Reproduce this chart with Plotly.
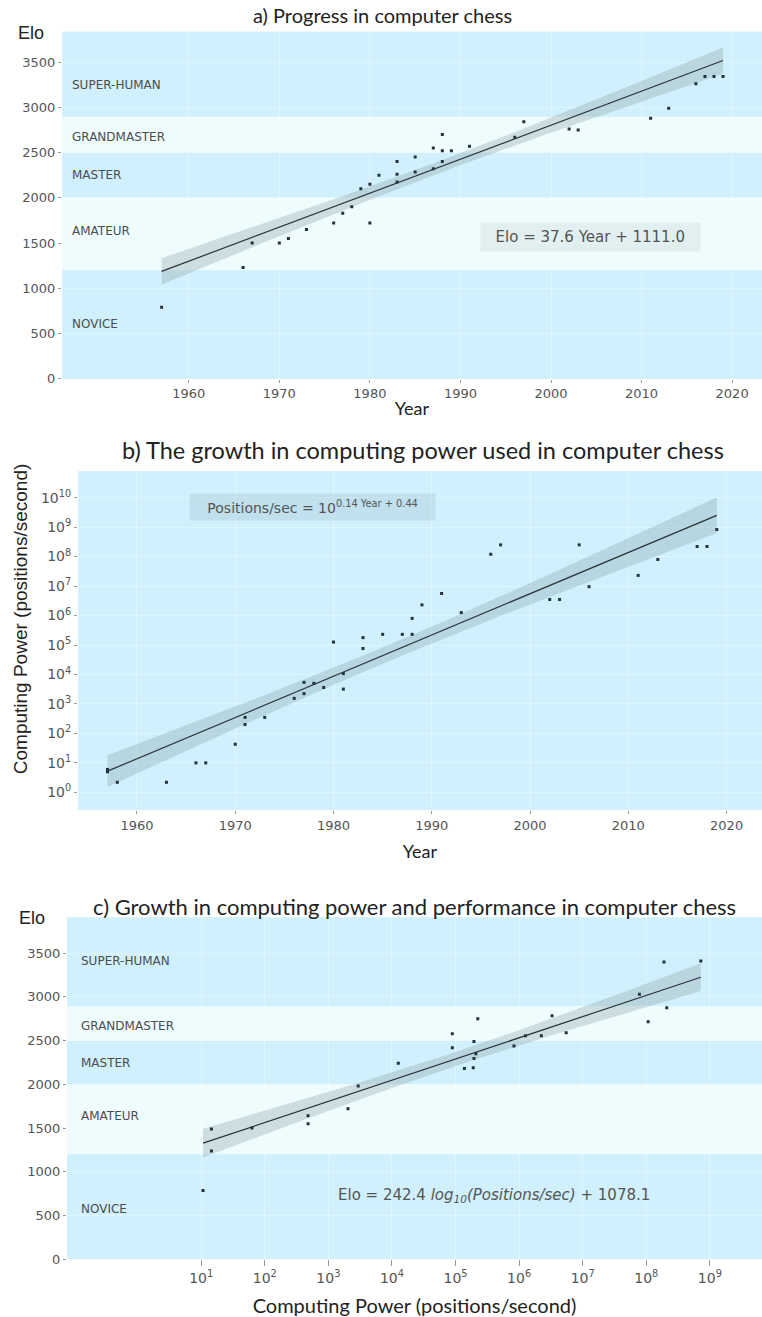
import numpy as np
import plotly.graph_objects as go

# ---------------- data ----------------
# a) engine rating by year
years_a = [1957, 1966, 1967, 1970, 1971, 1973, 1976, 1977, 1978, 1979, 1980, 1980,
           1981, 1983, 1983, 1983, 1985, 1985, 1987, 1987, 1988, 1988, 1988, 1989,
           1991, 1996, 1997, 2002, 2003, 2011, 2013, 2016, 2017, 2018, 2019]
elo_a = [790, 1230, 1500, 1500, 1550, 1650, 1720, 1830, 1900, 2100, 1720, 2150,
         2250, 2400, 2260, 2175, 2450, 2285, 2550, 2320, 2700, 2520, 2400, 2520,
         2570, 2670, 2840, 2760, 2750, 2880, 2990, 3260, 3340, 3340, 3340]

# b) search speed by year (positions per second)
years_b = [1957, 1957, 1958, 1963, 1966, 1967, 1970, 1971, 1971, 1973, 1976, 1977,
           1977, 1978, 1979, 1980, 1981, 1981, 1983, 1983, 1985, 1987, 1988, 1988,
           1989, 1991, 1993, 1996, 1997, 2002, 2003, 2005, 2006, 2011, 2013, 2017,
           2018, 2019]
pps_b = [6.0, 5.0, 2.2, 2.2, 10, 10, 43, 200, 350, 350, 1550, 2240,
         5400, 5000, 3600, 126000, 3200, 10700, 178000, 76000, 230000, 230000, 230000, 800000,
         2.3e6, 5.6e6, 1.26e6, 1.2e8, 2.5e8, 3.5e6, 3.5e6, 2.5e8, 9.5e6, 2.3e7, 8e7, 2.2e8,
         2.2e8, 8.3e8]

# c) rating versus search speed
pps_c = [10.7, 14.5, 14.5, 63, 480, 480, 2040, 2950, 12600, 89000, 89000, 138000,
         190000, 195000, 209000, 195000, 224000, 830000, 1.26e6, 2.24e6, 3.3e6, 5.5e6,
         7.8e7, 1.07e8, 1.9e8, 2.1e8, 7.2e8]
elo_c = [786, 1490, 1239, 1500, 1550, 1640, 1720, 1980, 2240, 2580, 2420, 2180,
         2190, 2295, 2350, 2490, 2750, 2440, 2555, 2555, 2785, 2590,
         3030, 2715, 3400, 2875, 3410]

# rating classes
band_names = ["NOVICE", "AMATEUR", "MASTER", "GRANDMASTER", "SUPER-HUMAN"]
band_lo = [0, 1200, 2000, 2500, 2900]
band_hi = [1200, 2000, 2500, 2900, 4000]
band_label_elo_a = [600, 1630, 2250, 2670, 3250]
band_label_elo_c = [570, 1640, 2250, 2670, 3410]

# fitted models
fit_a = (37.6, 1111.0, 1955)      # Elo = 37.6 * (year - 1955) + 1111.0
fit_b = (0.14, 0.44, 1955)        # log10(pps) = 0.14 * (year - 1955) + 0.44
fit_c = (242.4, 1078.1)           # Elo = 242.4 * log10(pps) + 1078.1

# ---------------- styling ----------------
DARK = "#cff0fc"
LIGHT = "#eefcfe"
RIBBON = "rgba(140,160,165,0.33)"
LINE = "#2b3338"
PT = "#23333d"
TICKFONT = dict(family="DejaVu Sans", size=13, color="#555555")
LOGTICKFONT = dict(family="DejaVu Sans", size=14, color="#555555")
BANDFONT = dict(family="DejaVu Sans", size=12, color="#4d4d4d")
EQFONT = dict(family="DejaVu Sans", size=14, color="#555555")
W, H = 762, 1317


def conf_band(xf, x, y, slope, icpt):
    x = np.asarray(x, float)
    y = np.asarray(y, float)
    n = len(x)
    resid = y - (slope * x + icpt)
    s = np.sqrt(np.sum(resid ** 2) / (n - 2))
    sxx = np.sum((x - x.mean()) ** 2)
    half = 2.02 * s * np.sqrt(1.0 / n + (xf - x.mean()) ** 2 / sxx)
    return half


fig = go.Figure()

# ---- panel a ----
ya = np.asarray(years_a, float) - fit_a[2]
xf_a = np.linspace(min(years_a), max(years_a), 100)
line_a = fit_a[0] * (xf_a - fit_a[2]) + fit_a[1]
half_a = conf_band(xf_a - fit_a[2], ya, elo_a, fit_a[0], fit_a[1])
fig.add_trace(go.Scatter(x=np.r_[xf_a, xf_a[::-1]], y=np.r_[line_a + half_a, (line_a - half_a)[::-1]],
                         fill="toself", fillcolor=RIBBON, line=dict(width=0), mode="lines",
                         xaxis="x", yaxis="y", hoverinfo="skip", showlegend=False))
fig.add_trace(go.Scatter(x=xf_a, y=line_a, mode="lines", line=dict(color=LINE, width=1.2),
                         xaxis="x", yaxis="y", showlegend=False))
fig.add_trace(go.Scatter(x=years_a, y=elo_a, mode="markers",
                         marker=dict(symbol="square", size=3, color=PT),
                         xaxis="x", yaxis="y", showlegend=False))

# ---- panel b ----
yb = np.asarray(years_b, float) - fit_b[2]
lb = np.log10(pps_b)
xf_b = np.linspace(min(years_b), max(years_b), 100)
line_b = fit_b[0] * (xf_b - fit_b[2]) + fit_b[1]
half_b = conf_band(xf_b - fit_b[2], yb, lb, fit_b[0], fit_b[1])
fig.add_trace(go.Scatter(x=np.r_[xf_b, xf_b[::-1]],
                         y=10 ** np.r_[line_b + half_b, (line_b - half_b)[::-1]],
                         fill="toself", fillcolor="rgba(130,160,170,0.33)", line=dict(width=0), mode="lines",
                         xaxis="x2", yaxis="y2", hoverinfo="skip", showlegend=False))
fig.add_trace(go.Scatter(x=xf_b, y=10 ** line_b, mode="lines", line=dict(color=LINE, width=1.2),
                         xaxis="x2", yaxis="y2", showlegend=False))
fig.add_trace(go.Scatter(x=years_b, y=pps_b, mode="markers",
                         marker=dict(symbol="square", size=3, color=PT),
                         xaxis="x2", yaxis="y2", showlegend=False))

# ---- panel c ----
lc = np.log10(pps_c)
xf_c = np.linspace(lc.min(), lc.max(), 100)
line_c = fit_c[0] * xf_c + fit_c[1]
half_c = conf_band(xf_c, lc, elo_c, fit_c[0], fit_c[1])
fig.add_trace(go.Scatter(x=10 ** np.r_[xf_c, xf_c[::-1]], y=np.r_[line_c + half_c, (line_c - half_c)[::-1]],
                         fill="toself", fillcolor=RIBBON, line=dict(width=0), mode="lines",
                         xaxis="x3", yaxis="y3", hoverinfo="skip", showlegend=False))
fig.add_trace(go.Scatter(x=10 ** xf_c, y=line_c, mode="lines", line=dict(color=LINE, width=1.2),
                         xaxis="x3", yaxis="y3", showlegend=False))
fig.add_trace(go.Scatter(x=pps_c, y=elo_c, mode="markers",
                         marker=dict(symbol="square", size=3, color=PT),
                         xaxis="x3", yaxis="y3", showlegend=False))

shapes = []
annotations = []

# rating bands for panels a and c
for yref, xref in (("y", "x"), ("y3", "x3")):
    for i, (lo, hi) in enumerate(zip(band_lo, band_hi)):
        shapes.append(dict(type="rect", xref=xref + " domain", yref=yref, x0=0, x1=1, y0=lo, y1=hi,
                           fillcolor=DARK if i % 2 == 0 else LIGHT, line=dict(width=0), layer="below"))
for name, ya_, yc_ in zip(band_names, band_label_elo_a, band_label_elo_c):
    annotations.append(dict(text=name, xref="paper", yref="y", x=70 / W, y=ya_, xanchor="left",
                            showarrow=False, font=BANDFONT))
    annotations.append(dict(text=name, xref="paper", yref="y3", x=79 / W, y=yc_, xanchor="left",
                            showarrow=False, font=BANDFONT))


def label(text, x, y, font, **kw):
    d = dict(text=text, xref="paper", yref="paper", x=x / W, y=1 - y / H, xanchor="center",
             yanchor="middle", showarrow=False, font=font)
    d.update(kw)
    annotations.append(d)


label("a) Progress in computer chess", 383, 15, dict(family="Lato", size=20, color="#222222"))
label("b) The growth in computing power used in computer chess", 423, 453,
      dict(family="Lato", size=23.5, color="#222222"))
label("c) Growth in computing power and performance in computer chess", 414, 912,
      dict(family="Lato", size=22, color="#222222"))
label("Elo", 31, 33, dict(family="Liberation Sans", size=18, color="#222222"))
label("Elo", 32, 924, dict(family="Liberation Sans", size=18, color="#222222"))
label("Computing Power (positions/second)", 20, 623, dict(family="Liberation Sans", size=19, color="#222222"),
      textangle=-90)
label("  Elo = 37.6 Year + 1111.0  ", 590, 238, dict(family="DejaVu Sans", size=15, color="#555555"),
      bgcolor="rgba(200,215,215,0.35)", borderpad=5)
label("   Positions/sec = 10<sup>0.14 Year + 0.44</sup>   ", 312, 510, EQFONT,
      bgcolor="rgba(160,195,205,0.35)", borderpad=4)
label("Elo = 242.4 <i>log<sub>10</sub>(Positions/sec)</i> + 1078.1", 494, 1203,
      dict(family="DejaVu Sans", size=15, color="#555555"))

AXT = dict(family="Lato", size=18, color="#222222")
common = dict(showline=False, zeroline=False, ticks="outside", ticklen=3, tickcolor="#999999",
              gridcolor="rgba(255,255,255,0.35)", showgrid=True)
year_ticks = [1960, 1970, 1980, 1990, 2000, 2010, 2020]
elo_ticks = [0, 500, 1000, 1500, 2000, 2500, 3000, 3500]

fig.update_layout(
    width=W, height=H, margin=dict(l=0, r=0, t=0, b=0),
    paper_bgcolor="white", plot_bgcolor=DARK,
    shapes=shapes, annotations=annotations,
    xaxis=dict(domain=[62 / W, 1], anchor="y", range=[1946, 2023.3], tickvals=year_ticks,
               tickfont=TICKFONT, title=dict(text="Year", font=AXT, standoff=2), **common),
    yaxis=dict(domain=[1 - 381 / H, 1 - 32 / H], anchor="x", range=[0, 3835],
               tickvals=elo_ticks, tickfont=TICKFONT, **common),
    xaxis2=dict(domain=[78 / W, 1], anchor="y2", range=[1954, 2023.6], tickvals=year_ticks,
                tickfont=TICKFONT, title=dict(text="Year", font=AXT, standoff=13), **common),
    yaxis2=dict(domain=[1 - 815 / H, 1 - 474 / H], anchor="x2", type="log", range=[-0.6, 10.9],
                tickvals=[10 ** k for k in range(11)], ticktext=["10<sup>%d</sup>" % k for k in range(11)],
                tickfont=LOGTICKFONT, **common),
    xaxis3=dict(domain=[67 / W, 1], anchor="y3", type="log", range=[-1.11, 9.82],
                tickvals=[10 ** k for k in range(1, 10)], ticktext=["10<sup>%d</sup>" % k for k in range(1, 10)],
                tickfont=LOGTICKFONT,
                title=dict(text="Computing Power (positions/second)", font=dict(family="Lato", size=20, color="#222222"),
                           standoff=14), **common),
    yaxis3=dict(domain=[1 - 1267 / H, 1 - 923 / H], anchor="x3", range=[0, 3909],
                tickvals=elo_ticks, tickfont=TICKFONT, **common),
)
fig.layout.xaxis3.ticklen = 6

fig.write_html("out.html")
